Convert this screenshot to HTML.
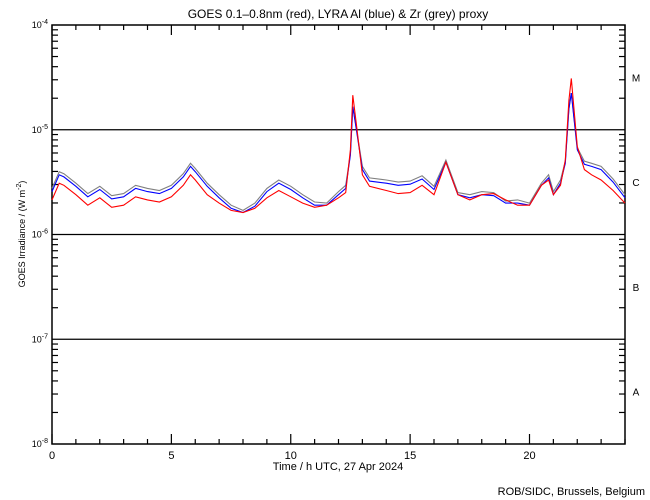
<!DOCTYPE html>
<html><head><meta charset="utf-8"><style>
body{margin:0;background:#fff;}
svg{display:block;font-family:"Liberation Sans",sans-serif;}
</style></head><body>
<svg id="chart" width="650" height="500" viewBox="0 0 650 500" xmlns="http://www.w3.org/2000/svg">
<rect width="650" height="500" fill="#fff"/>
<text x="338" y="18" font-size="12" text-anchor="middle">GOES 0.1–0.8nm (red), LYRA Al (blue) &amp; Zr (grey) proxy</text>
<text x="338" y="470" font-size="11" text-anchor="middle">Time / h UTC, 27 Apr 2024</text>
<text x="0" y="0" font-size="9" text-anchor="middle" transform="translate(25,234) rotate(-90)">GOES Irradiance / (W m<tspan font-size="7" dy="-4">-2</tspan><tspan dy="4">)</tspan></text>
<text x="645" y="495" font-size="11" text-anchor="end">ROB/SIDC, Brussels, Belgium</text>
<g id="axes"></g>
<g id="series"></g>
</svg>
<script>
const hours=[0,0.3,0.5,1,1.5,2,2.5,3,3.5,4,4.5,5,5.5,5.8,6,6.5,7,7.5,8,8.5,9,9.5,10,10.5,11,11.5,12,12.3,12.5,12.6,12.75,13,13.3,14,14.5,15,15.5,16,16.5,17,17.5,18,18.5,19,19.5,20,20.5,20.8,21,21.3,21.5,21.65,21.75,22,22.3,22.6,23,23.5,24];
const goesLog=[-5.67,-5.51,-5.53,-5.62,-5.72,-5.65,-5.74,-5.72,-5.64,-5.67,-5.69,-5.64,-5.53,-5.43,-5.48,-5.62,-5.70,-5.77,-5.79,-5.75,-5.65,-5.58,-5.64,-5.70,-5.74,-5.72,-5.65,-5.60,-5.19,-4.67,-4.95,-5.43,-5.54,-5.58,-5.61,-5.60,-5.53,-5.62,-5.31,-5.62,-5.67,-5.62,-5.61,-5.67,-5.72,-5.72,-5.53,-5.48,-5.62,-5.53,-5.29,-4.72,-4.51,-5.16,-5.38,-5.43,-5.48,-5.58,-5.70];
const alLog=[-5.59,-5.43,-5.45,-5.54,-5.64,-5.57,-5.66,-5.64,-5.56,-5.59,-5.61,-5.56,-5.45,-5.35,-5.40,-5.54,-5.65,-5.75,-5.79,-5.73,-5.59,-5.51,-5.57,-5.65,-5.72,-5.72,-5.62,-5.56,-5.24,-4.78,-5.00,-5.38,-5.49,-5.51,-5.53,-5.52,-5.47,-5.57,-5.31,-5.62,-5.65,-5.62,-5.63,-5.70,-5.70,-5.72,-5.53,-5.46,-5.62,-5.51,-5.32,-4.80,-4.65,-5.19,-5.33,-5.35,-5.38,-5.50,-5.65];
const zrLog=[-5.56,-5.40,-5.42,-5.51,-5.61,-5.54,-5.63,-5.61,-5.53,-5.56,-5.58,-5.53,-5.42,-5.32,-5.37,-5.51,-5.62,-5.72,-5.77,-5.70,-5.56,-5.48,-5.54,-5.62,-5.69,-5.70,-5.59,-5.53,-5.23,-4.78,-4.99,-5.35,-5.46,-5.48,-5.50,-5.49,-5.44,-5.54,-5.29,-5.60,-5.62,-5.59,-5.60,-5.68,-5.67,-5.70,-5.51,-5.43,-5.59,-5.48,-5.30,-4.80,-4.65,-5.17,-5.30,-5.32,-5.35,-5.47,-5.62];
const xTicks=[0,5,10,15,20];
const decades=[-4,-5,-6,-7,-8];
const classes=["M","C","B","A"];

const X0=52,X1=625,Y0=25,Y1=444;
const xs=h=>X0+(h/24)*(X1-X0);
const ys=l=>Y0+(-4-l)*(Y1-Y0)/4;
const NS="http://www.w3.org/2000/svg";
const axes=document.getElementById('axes'), ser=document.getElementById('series');
function mk(tag,at,par){const e=document.createElementNS(NS,tag);for(const k in at)e.setAttribute(k,at[k]);par.appendChild(e);return e;}

const frame=mk('rect',{x:X0,y:Y0,width:X1-X0,height:Y1-Y0,fill:'none',stroke:'#000','stroke-width':1.5},axes);


for(let h=0;h<=24;h++){
  const L=(h%5===0)?10:5;
  const t1=mk('line',{x1:xs(h),x2:xs(h),y1:Y1,y2:Y1-L,stroke:'#000','stroke-width':1.2},axes);
  
  
  const t2=mk('line',{x1:xs(h),x2:xs(h),y1:Y0,y2:Y0+L,stroke:'#000','stroke-width':1.2},axes);
  
  
}
xTicks.forEach(v=>{
  const t=mk('text',{x:xs(v),y:Y1+15,'font-size':11,'text-anchor':'middle'},axes);
  t.textContent=String(v);
  
  
});
decades.forEach((d,i)=>{
  const y=ys(d);
  if(d!==-4&&d!==-8){
    const gl=mk('line',{x1:X0,x2:X1,y1:y,y2:y,stroke:'#000','stroke-width':1.3},axes);
    
    
  }
  const t=mk('text',{x:X0-4,y:y+3,'font-size':9,'text-anchor':'end'},axes);
  t.innerHTML='10<tspan font-size="7" dy="-4">'+d+'</tspan>';
  
  
  if(d>-8){
    for(let m=2;m<=9;m++){
      const yy=ys(d-1+Math.log10(m));
      const a=mk('line',{x1:X0,x2:X0+6,y1:yy,y2:yy,stroke:'#000','stroke-width':1.2},axes);
      
      
      const b=mk('line',{x1:X1,x2:X1-6,y1:yy,y2:yy,stroke:'#000','stroke-width':1.2},axes);
      
      
    }
    const c=mk('text',{x:636,y:ys(d-0.5)+4,'font-size':10,'text-anchor':'middle'},axes);
    c.textContent=classes[i];
    
    
  }
});
function draw(arr,col,name){
  const pts=hours.map((h,i)=>xs(h).toFixed(1)+','+ys(arr[i]).toFixed(1)).join(' ');
  const p=mk('polyline',{points:pts,fill:'none',stroke:col,'stroke-width':1.1},ser);
  
  
}
draw(zrLog,'#808080','lyra-zr-series');
draw(alLog,'#0000ff','lyra-al-series');
draw(goesLog,'#ff0000','goes-series');
</script>
</body></html>
